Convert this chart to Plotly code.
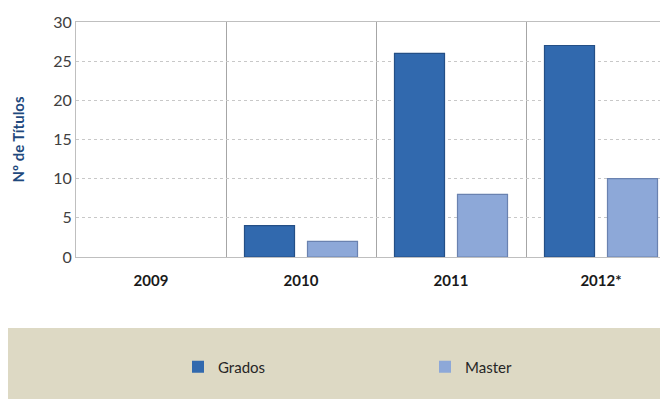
import plotly.graph_objects as go

years = ["2009", "2010", "2011", "2012*"]
grados = [0, 4, 26, 27]
master = [0, 2, 8, 10]
y_ticks = [0, 5, 10, 15, 20, 25, 30]

# page has an 8px body margin; figure sized to fit the window
W, H = 660, 391
L, R, T, B = 68, 0, 14, 142
pw, ph = W - L - R, H - T - B
plot_bottom = T + ph  # figure px

fig = go.Figure()
fig.add_trace(go.Bar(
    name="Grados", x=years, y=grados,
    marker=dict(color="#3169AE",
                line=dict(color="#244F86", width=[1.2 if v > 0 else 0 for v in grados])),
))
fig.add_trace(go.Bar(
    name="Master", x=years, y=master,
    marker=dict(color="#8DA8D8",
                line=dict(color="#6A82B0", width=[1.2 if v > 0 else 0 for v in master])),
))

# beige legend band (paper coords relative to plot area)
fig.add_shape(type="rect", xref="paper", yref="paper",
              x0=-(L + 5) / pw, x1=1.05,
              y0=(plot_bottom - 320) / ph, y1=(plot_bottom - H - 10) / ph,
              fillcolor="#DDD9C4", line=dict(width=0), layer="below")

fig.update_layout(
    width=W, height=H,
    margin=dict(l=L, r=R, t=T, b=B, autoexpand=False),
    paper_bgcolor="white", plot_bgcolor="white",
    barmode="group", bargap=0.16, bargroupgap=0.206,
    font=dict(family="Lato, 'Open Sans', sans-serif", color="#404040"),
    showlegend=True,
    legend=dict(orientation="h", x=(170 - L) / pw, xanchor="left",
                y=(plot_bottom - 359) / ph, yanchor="middle",
                entrywidth=202, entrywidthmode="pixels",
                bgcolor="rgba(0,0,0,0)", font=dict(size=15, color="#262626"),
                itemclick=False),
)
fig.update_xaxes(
    type="category", range=[-0.5, -0.5 + pw / 150], automargin=False,
    tickson="boundaries", showgrid=True, gridcolor="#A6A6A6", gridwidth=1,
    showline=True, linecolor="#BFBFBF", linewidth=1, mirror=True,
    ticks="", ticklabelstandoff=10,
    tickfont=dict(size=15, color="#1a1a1a", family="Lato, sans-serif", weight="bold"),
)
fig.update_yaxes(
    range=[0, 30], tickvals=y_ticks, ticks="", automargin=False,
    showgrid=True, gridcolor="#C8C8C8", griddash="dot", gridwidth=1,
    showline=True, linecolor="#BFBFBF", linewidth=1,
    tickfont=dict(size=16, color="#404040"), zeroline=False,
    title=dict(text="Nº de Títulos", standoff=24,
               font=dict(size=15, color="#1F497D", weight="bold")),
)
fig.write_html("out.html")
